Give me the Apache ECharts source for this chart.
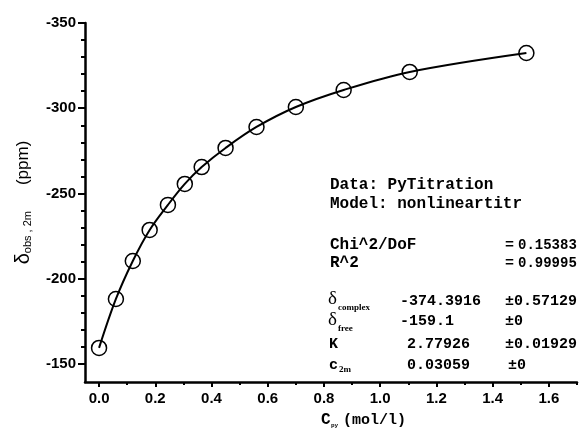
<!DOCTYPE html>
<html>
<head>
<meta charset="utf-8">
<script src="https://cdn.jsdelivr.net/npm/echarts@6/dist/echarts.min.js"></script>
<style>
  html, body { margin: 0; padding: 0; background: #fff; }
  #chart { width: 583px; height: 432px; }
</style>
</head>
<body>
<div id="chart"></div>
<script>
// titration data
const concPy = [0, 0.06, 0.12, 0.18, 0.245, 0.305, 0.365, 0.45, 0.56, 0.70, 0.87, 1.105, 1.52]
const deltaObs = [-159.4, -188.1, -210.4, -228.6, -243.3, -255.6, -265.5, -276.7, -289.0, -300.7, -310.7, -321.3, -332.4]

// axis ticks
const xMajor = [0, 0.2, 0.4, 0.6, 0.8, 1.0, 1.2, 1.4, 1.6]
const xMinor = [0.1, 0.3, 0.5, 0.7, 0.9, 1.1, 1.3, 1.5, 1.7]
const yMajor = [-350, -300, -250, -200, -150]
const yMinor = [-340, -330, -320, -310, -290, -280, -270, -260, -240, -230, -220, -210, -190, -180, -170, -160]

const chart = echarts.init(document.getElementById('chart'))

const tickFont = { fontFamily: 'Liberation Sans', fontWeight: 'bold', fontSize: 15, color: '#000' }
const mono = 'bold 15px "Liberation Mono"'
const monoBig = 'bold 16px "Liberation Mono"'
const monoNum = 'bold 14px "Liberation Mono"'

// helper for the fit box texts
function txt(x, y, text, font) {
  return {
    type: 'text', x: x, y: y,
    style: { text: text, font: font || mono, fill: '#000', verticalAlign: 'middle' }
  }
}

const option = {
  animation: false,
  backgroundColor: '#fff',
  grid: { left: 85, right: 6, top: 23, bottom: 50 },
  xAxis: [
    {
      type: 'value', min: -0.05, max: 1.7,
      axisLine: { onZero: false, lineStyle: { color: '#000', width: 2.5 } },
      axisTick: { customValues: xMajor, length: 5, lineStyle: { color: '#000', width: 2 } },
      axisLabel: Object.assign({ customValues: xMajor, margin: 9, formatter: v => v.toFixed(1) }, tickFont),
      splitLine: { show: false }
    },
    {
      type: 'value', min: -0.05, max: 1.7, position: 'bottom',
      axisLine: { show: false, onZero: false },
      axisTick: { customValues: xMinor, length: 3, lineStyle: { color: '#000', width: 2 } },
      axisLabel: { show: false },
      splitLine: { show: false }
    }
  ],
  yAxis: [
    {
      type: 'value', min: -350, max: -139.4, inverse: true,
      axisLine: { onZero: false, lineStyle: { color: '#000', width: 2.5 } },
      axisTick: { customValues: yMajor, length: 7, lineStyle: { color: '#000', width: 2 } },
      axisLabel: Object.assign({ customValues: yMajor, margin: 9 }, tickFont),
      splitLine: { show: false },
      name: '{d|δ}{s|obs , 2m}{g|}{p|(ppm)}',
      nameLocation: 'middle',
      nameRotate: 90,
      nameGap: 52,
      nameTextStyle: {
        color: '#000',
        rich: {
          d: { fontFamily: 'Liberation Sans', fontSize: 20, color: '#000', verticalAlign: 'middle' },
          s: { fontFamily: 'Liberation Sans', fontSize: 11, color: '#000', verticalAlign: 'bottom' },
          g: { width: 26 },
          p: { fontFamily: 'Liberation Sans', fontSize: 17, color: '#000', verticalAlign: 'middle' }
        }
      }
    },
    {
      type: 'value', min: -350, max: -139.4, inverse: true, position: 'left',
      axisLine: { show: false, onZero: false },
      axisTick: { customValues: yMinor, length: 4, lineStyle: { color: '#000', width: 2 } },
      axisLabel: { show: false },
      splitLine: { show: false }
    }
  ],
  series: [
    {
      type: 'line',
      data: concPy.map((x, i) => [x, deltaObs[i]]),
      smooth: 0.35,
      symbol: 'circle',
      symbolSize: 15,
      itemStyle: { color: 'rgba(0,0,0,0)', borderColor: '#000', borderWidth: 1.5 },
      lineStyle: { color: '#000', width: 2 }
    }
  ],
  graphic: [
    // x axis title
    txt(321, 420, 'C', monoBig),
    txt(331, 425, 'py', 'bold 6px "Liberation Mono"'),
    txt(343, 420, '(mol/l)', mono),

    // fit results box
    txt(330, 185, 'Data: PyTitration', monoBig),
    txt(330, 204, 'Model: nonlineartitr', monoBig),
    txt(330, 245, 'Chi^2/DoF', monoBig),
    txt(505, 245, '=', mono),
    txt(518, 245, '0.15383', monoNum),
    txt(330, 263, 'R^2', monoBig),
    txt(505, 263, '=', mono),
    txt(518, 263, '0.99995', monoNum),

    txt(328, 299, 'δ', '19px "Liberation Serif"'),
    txt(338, 308, 'complex', 'bold 9px "Liberation Serif"'),
    txt(400, 301, '-374.3916'),
    txt(505, 301, '±0.57129'),

    txt(328, 320, 'δ', '19px "Liberation Serif"'),
    txt(338, 329, 'free', 'bold 9px "Liberation Serif"'),
    txt(400, 321, '-159.1'),
    txt(505, 321, '±0'),

    txt(329, 344, 'K'),
    txt(407, 344, '2.77926'),
    txt(505, 344, '±0.01929'),

    txt(329, 365, 'c'),
    txt(339, 370, '2m', 'bold 9px "Liberation Serif"'),
    txt(407, 365, '0.03059'),
    txt(508, 365, '±0')
  ]
}

chart.setOption(option)
</script>
</body>
</html>
